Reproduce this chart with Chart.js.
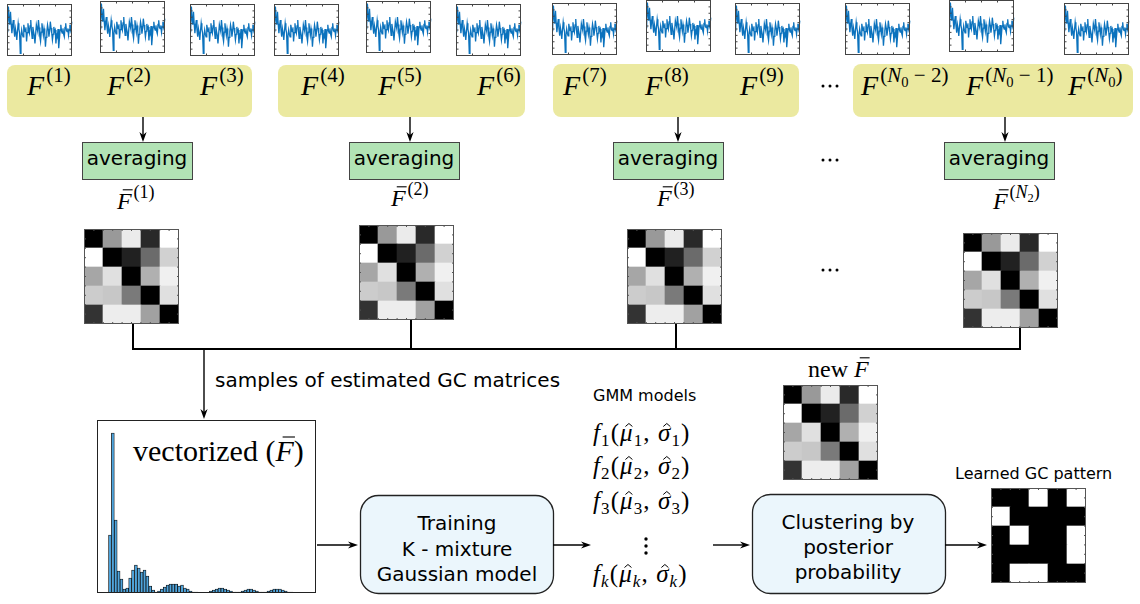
<!DOCTYPE html>
<html>
<head>
<meta charset="utf-8">
<title>GC pattern learning pipeline</title>
<script src="https://cdn.jsdelivr.net/npm/chart.js@4.4.1/dist/chart.umd.min.js"></script>
<style>
  html, body { margin: 0; background: #fff; }
  #page { position: relative; width: 1140px; height: 604px; overflow: hidden; }
  #page canvas { position: absolute; }
  #diagram { position: absolute; left: 0; top: 0; }
</style>
</head>
<body>
<div id="page">
  <svg id="diagram" width="1140" height="604" xmlns="http://www.w3.org/2000/svg"></svg>
</div>
<script>
// --- Data ---
// one recorded trace, shown in every F^(i) panel
const signal = [0.47,0.55,0.95,0.72,0.6,0.85,0.62,0.44,0.58,0.69,0.5,0.37,0.53,0.45,0.31,0.48,0.63,0.52,0.44,0.05,
  0.38,0.5,0.42,0.37,0.6,0.52,0.47,0.55,0.28,0.45,0.63,0.5,0.44,0.58,0.69,0.48,0.34,0.56,0.47,0.4,
  0.24,0.42,0.6,0.53,0.47,0.69,0.55,0.37,0.28,0.46,0.63,0.51,0.4,0.53,0.44,0.18,0.36,0.47,0.6,0.52,
  0.37,0.48,0.66,0.54,0.44,0.31,0.42,0.56,0.47,0.5,0.24,0.41,0.37,0.52,0.15,0.33,0.5,0.6,0.48,0.44,
  0.53,0.42,0.37,0.55,0.63,0.49,0.47,0.53,0.4,0.5,0.6,0.5,0.58,0.66];

// averaged GC matrix, grey level per cell (0 = black, 1 = white), rows top to bottom
const gcMatrix = [
  [0.00, 0.60, 0.92, 0.16, 1.00],
  [1.00, 0.00, 0.13, 0.42, 0.82],
  [0.65, 0.88, 0.00, 0.69, 0.94],
  [0.80, 0.78, 0.48, 0.00, 0.88],
  [0.20, 0.93, 0.93, 0.63, 0.00]
];

// learned GC pattern (0 = connection, 1 = none)
const gcPattern = [
  [0, 0, 1, 0, 1],
  [1, 0, 0, 0, 0],
  [0, 1, 0, 0, 1],
  [0, 0, 0, 0, 1],
  [0, 1, 1, 0, 0]
];

// histogram of the vectorized matrix entries
const histCounts = [0,0,0,0.6,58,160,73,22,14,4,5,15,23,28,25,21,23,17,7,3,
  1,2,4,6,8,9,9,9,7,8,5,4,2,1,1,0.5,0.3,0.3,0.5,2,
  3,4,5,5,4,3,2,1,1,1,2,3,4,4,3,2,1,1,1,2,
  3,4,4,4,3,2,1,1,0.6,0.4,0.3,0,0,0,0,0];

const fLabels = ['(1)', '(2)', '(3)', '(4)', '(5)', '(6)', '(7)', '(8)', '(9)'];

// --- Layout ---
const page = document.getElementById('page');
const svg = document.getElementById('diagram');

const tracePanels = [[7,4],[100,1],[190,4],[274,4],[366,1],[456,4],[552,3],[646,0],[735,3],[845,3],[949,0],[1064,3]];
const matrixPanels = [[84,229],[359,225],[627,229],[963,233],[783,385]];

function addCanvas(x, y, w, h) {
  const c = document.createElement('canvas');
  c.width = w; c.height = h;
  c.style.left = x + 'px'; c.style.top = y + 'px';
  c.style.width = w + 'px'; c.style.height = h + 'px';
  page.appendChild(c);
  return c;
}

// box around the plot area with small inward ticks
const framePlugin = {
  id: 'frame',
  afterDraw(chart, args, opts) {
    const { ctx, chartArea: a } = chart;
    const l = Math.round(a.left) + 0.5, t = Math.round(a.top) + 0.5;
    const r = Math.round(a.right) - 0.5, b = Math.round(a.bottom) - 0.5;
    ctx.save();
    ctx.strokeStyle = opts.color || '#333';
    ctx.lineWidth = opts.width || 1;
    ctx.strokeRect(l, t, r - l, b - t);
    const nx = opts.ticksX || 0, ny = opts.ticksY || 0, len = opts.tickLength || 2;
    ctx.beginPath();
    for (let i = 1; i < nx; i++) {
      const x = l + (r - l) * i / nx;
      ctx.moveTo(x, b); ctx.lineTo(x, b - len);
      ctx.moveTo(x, t); ctx.lineTo(x, t + len);
    }
    for (let i = 1; i < ny; i++) {
      const y = t + (b - t) * i / ny;
      ctx.moveTo(l, y); ctx.lineTo(l + len, y);
      ctx.moveTo(r, y); ctx.lineTo(r - len, y);
    }
    ctx.stroke();
    ctx.restore();
  }
};

const baseOptions = {
  responsive: false,
  animation: false,
  events: [],
  layout: { padding: 1 },
  plugins: { legend: { display: false }, tooltip: { enabled: false } }
};

function traceChart(x, y) {
  const w = 65, h = 52;
  new Chart(addCanvas(x - 1, y - 1, w + 2, h + 2), {
    type: 'line',
    data: {
      labels: signal.map((_, i) => i),
      datasets: [{ data: signal, borderColor: '#0b72bd', borderWidth: 1.3, pointRadius: 0, tension: 0 }]
    },
    options: {
      ...baseOptions,
      plugins: { ...baseOptions.plugins, frame: { color: '#444', ticksX: 4, ticksY: 8 } },
      scales: {
        x: { display: false },
        y: { display: false, min: 0, max: 1 }
      }
    },
    plugins: [framePlugin]
  });
}

function grey(v) {
  const g = Math.round(v * 255);
  return `rgb(${g},${g},${g})`;
}

function matrixChart(x, y, size, levels) {
  // one stacked dataset per row, bottom row first
  const datasets = levels.slice().reverse().map(row => ({
    data: row.map(() => 1),
    backgroundColor: row.map(grey),
    borderWidth: 0,
    barPercentage: 1,
    categoryPercentage: 1
  }));
  new Chart(addCanvas(x - 1, y - 1, size + 2, size + 2), {
    type: 'bar',
    data: { labels: ['1', '2', '3', '4', '5'], datasets },
    options: {
      ...baseOptions,
      plugins: { ...baseOptions.plugins, frame: { color: '#555', ticksX: 10, ticksY: 10, tickLength: 1.5 } },
      scales: {
        x: { display: false, stacked: true },
        y: { display: false, stacked: true, min: 0, max: 5 }
      }
    },
    plugins: [framePlugin]
  });
}

function histChart(x, y, w, h) {
  new Chart(addCanvas(x - 1, y - 1, w + 2, h + 2), {
    type: 'bar',
    data: {
      labels: histCounts.map((_, i) => i),
      datasets: [{
        data: histCounts,
        backgroundColor: '#4ea4dc',
        borderColor: '#111',
        borderWidth: 0.8,
        barPercentage: 1,
        categoryPercentage: 1
      }]
    },
    options: {
      ...baseOptions,
      plugins: { ...baseOptions.plugins, frame: { color: '#222' } },
      scales: {
        x: { display: false },
        y: { display: false, min: 0, max: 173 }
      }
    },
    plugins: [framePlugin]
  });
}

// --- SVG helpers for boxes, arrows and labels ---
let markup = '';

function rect(x, y, w, h, fill, stroke, rx) {
  markup += `<rect x="${x}" y="${y}" width="${w}" height="${h}" rx="${rx || 0}" fill="${fill}"` +
    (stroke ? ` stroke="${stroke}" stroke-width="1.3"` : '') + '/>';
}
function line(x1, y1, x2, y2, w) {
  markup += `<line x1="${x1}" y1="${y1}" x2="${x2}" y2="${y2}" stroke="#000" stroke-width="${w || 1.4}"/>`;
}
function arrow(x1, y1, x2, y2) {
  const len = Math.hypot(x2 - x1, y2 - y1), ux = (x2 - x1) / len, uy = (y2 - y1) / len;
  line(x1, y1, x2 - ux * 5, y2 - uy * 5, 1.4);
  const p = (a, b) => `${(x2 - ux * a - uy * b).toFixed(1)},${(y2 - uy * a + ux * b).toFixed(1)}`;
  markup += `<path d="M${x2},${y2} L${p(10, 3.6)} L${p(7, 0)} L${p(10, -3.6)} Z" fill="#000"/>`;
}
function dot(x, y, r) {
  markup += `<circle cx="${x}" cy="${y}" r="${r}" fill="#000"/>`;
}
function text(x, y, s, size, anchor) {
  markup += `<text x="${x}" y="${y}" font-family="DejaVu Sans" font-size="${size}" text-anchor="${anchor || 'start'}" fill="#000">${s}</text>`;
}
// parts: [kind, text, decoration ('bar' | 'hat')]
function math(x, y, size, parts, spacing) {
  let cur = 0, out = '', prevMain = false;
  for (const [k, s, deco] of parts) {
    let off = 0, fs = size, it = k === 'i', dx = 0;
    if (k === 'sub' || k === 'subi') { off = 0.2 * size; fs = 0.68 * size; it = k === 'subi'; }
    if (k === 'sup' || k === 'supi') { off = -0.46 * size; fs = 0.75 * size; it = k === 'supi'; if (prevMain) dx = 0.08 * size; }
    if (k === 'supsub') { off = -0.3 * size; fs = 0.52 * size; }
    const d = deco ? ` data-deco="${deco}" data-size="${fs}" data-off="${off}"` : '';
    out += `<tspan dx="${dx.toFixed(1)}" dy="${(off - cur).toFixed(1)}" font-size="${fs.toFixed(1)}" font-style="${it ? 'italic' : 'normal'}"${d}>${s}</tspan>`;
    cur = off;
    prevMain = k === 'i' || k === 'r';
  }
  markup += `<text x="${x}" y="${y}" font-family="Liberation Serif" letter-spacing="${spacing || 0}" fill="#000" data-base="${y}">${out}</text>`;
}

// top row: grouped traces
rect(7, 65, 245, 52, '#ebe9a0', null, 8);
rect(278, 65, 247, 52, '#ebe9a0', null, 8);
rect(553, 64, 246, 53, '#ebe9a0', null, 8);
rect(853, 64, 280, 53, '#ebe9a0', null, 8);

const fPos = [27, 107, 200, 301, 378, 477, 563, 645, 740];
fLabels.forEach((s, i) => math(fPos[i], 95, 28, [['i', 'F'], ['sup', s]]));
math(861, 95, 28, [['i', 'F'], ['sup', '('], ['supi', 'N'], ['supsub', '0'], ['sup', ' − 2)']]);
math(966, 95, 28, [['i', 'F'], ['sup', '('], ['supi', 'N'], ['supsub', '0'], ['sup', ' − 1)']]);
math(1068, 95, 28, [['i', 'F'], ['sup', '('], ['supi', 'N'], ['supsub', '0'], ['sup', ')']]);
[[823, 86], [823, 160], [823, 270]].forEach(([x, y]) => { dot(x, y, 1.5); dot(x + 7, y, 1.5); dot(x + 14, y, 1.5); });

// averaging step
const avgBoxes = [82, 349, 613, 944];
const avgArrows = [143, 410, 678, 1005];
avgBoxes.forEach((x, i) => {
  arrow(avgArrows[i], 117, avgArrows[i], 142);
  markup += `<rect x="${x + 0.5}" y="142.5" width="110" height="37" fill="#b2e3b5" stroke="#444" stroke-width="1"/>`;
  text(x + 55, 165, 'averaging', 20, 'middle');
});
const barLabels = [[117, 209, '(1)'], [391, 206, '(2)'], [657, 206, '(3)']];
barLabels.forEach(([x, y, s]) => math(x, y, 24, [['i', 'F', 'bar'], ['sup', s]]));
math(993, 209, 24, [['i', 'F', 'bar'], ['sup', '('], ['supi', 'N'], ['supsub', '2'], ['sup', ')']]);

// collect the averaged matrices
[133, 411, 676, 1020].forEach((x, i) => line(x, [324, 320, 324, 328][i], x, 349, 2));
line(132, 349, 1021, 349, 2);
arrow(204, 349, 204, 419);
text(215, 387, 'samples of estimated GC matrices', 20);

math(133, 461, 30, [['r', 'vectorized ('], ['i', 'F', 'bar'], ['r', ')']]);

// model fitting
arrow(317, 545, 358, 545);
rect(360.5, 495.5, 193, 98, '#ebf6fc', '#222', 18);
text(457, 530, 'Training', 20, 'middle');
text(457, 556, 'K - mixture', 20, 'middle');
text(457, 581, 'Gaussian model', 20, 'middle');
arrow(553, 545, 591, 545);

text(593, 401, 'GMM models', 16);
function gmmLine(y, k, kind) {
  math(593, y, 25, [
    ['i', 'f'], [kind, k], ['r', '('], ['i', 'μ', 'hat'], [kind, k], ['r', ', '], ['i', 'σ', 'hat'], [kind, k], ['r', ')']
  ], 1.1);
}
gmmLine(441, '1', 'sub');
gmmLine(474, '2', 'sub');
gmmLine(509, '3', 'sub');
gmmLine(582, 'k', 'subi');
dot(646, 539, 1.7); dot(646, 546, 1.7); dot(646, 553, 1.7);

arrow(713, 545, 750, 545);
math(808, 377, 24, [['r', 'new '], ['i', 'F', 'bar']]);
rect(752.5, 494.5, 193, 99, '#ebf6fc', '#222', 18);
text(848, 529, 'Clustering by', 20, 'middle');
text(848, 554, 'posterior', 20, 'middle');
text(848, 579, 'probability', 20, 'middle');
arrow(945, 545, 987, 545);
text(955, 479, 'Learned GC pattern', 16);

svg.innerHTML = markup;

// overbars and hats above the marked glyphs
const NS = 'http://www.w3.org/2000/svg';
svg.querySelectorAll('tspan[data-deco]').forEach(ts => {
  const fs = +ts.getAttribute('data-size');
  const base = +ts.parentNode.getAttribute('data-base') + +ts.getAttribute('data-off');
  const sx = ts.getStartPositionOfChar(0).x, ex = ts.getEndPositionOfChar(0).x;
  if (ts.getAttribute('data-deco') === 'bar') {
    const l = document.createElementNS(NS, 'line');
    l.setAttribute('x1', sx + 0.24 * fs); l.setAttribute('x2', ex + 0.04 * fs);
    l.setAttribute('y1', base - 0.8 * fs); l.setAttribute('y2', base - 0.8 * fs);
    l.setAttribute('stroke', '#000'); l.setAttribute('stroke-width', 1.1);
    svg.appendChild(l);
  } else {
    const cx = (sx + ex) / 2 + 0.08 * fs, top = base - 0.68 * fs;
    const p = document.createElementNS(NS, 'path');
    p.setAttribute('d', `M${cx - 0.14 * fs},${top + 0.1 * fs} L${cx},${top - 0.02 * fs} L${cx + 0.14 * fs},${top + 0.1 * fs}`);
    p.setAttribute('stroke', '#000'); p.setAttribute('stroke-width', 1); p.setAttribute('fill', 'none');
    svg.appendChild(p);
  }
});

// --- Charts ---
tracePanels.forEach(([x, y]) => traceChart(x, y));
matrixPanels.forEach(([x, y]) => matrixChart(x, y, 95, gcMatrix));
matrixChart(991, 488, 95, gcPattern);
histChart(97, 420, 219, 173);
</script>
</body>
</html>
